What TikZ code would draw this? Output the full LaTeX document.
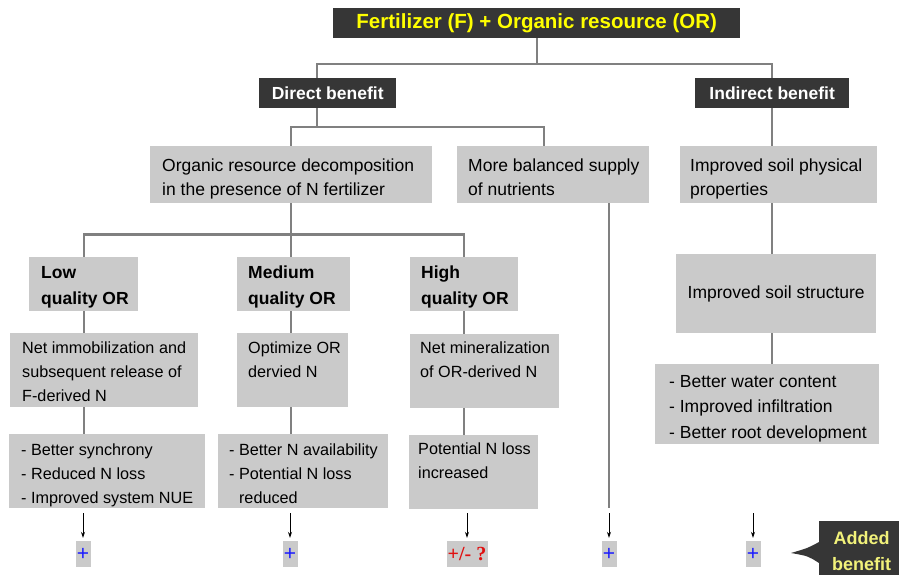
\documentclass[tikz,border=0pt]{standalone}
\usepackage{fontspec}
\setmainfont{Liberation Sans}
\newfontfamily\signfont{Liberation Serif}
\usetikzlibrary{arrows.meta}

\definecolor{headgrey}{HTML}{363636}
\definecolor{boxgrey}{HTML}{CACACA}
\definecolor{linkgrey}{HTML}{808080}
\definecolor{titleyellow}{HTML}{FFFF00}
\definecolor{noteyellow}{HTML}{F2F27A}
\definecolor{plusblue}{HTML}{1A1AFF}
\definecolor{plusred}{HTML}{E01010}

\begin{document}
\begin{tikzpicture}[
    x=1pt, y=-1pt,
    >={Stealth[length=6pt,width=4pt]},
    headbox/.style={
      fill=headgrey,
      anchor=north west,
      inner sep=0pt,
      text=white,
      font=\bfseries\fontsize{17.5}{21}\selectfont
    },
    greybox/.style={
      fill=boxgrey,
      anchor=north west,
      inner sep=0pt
    },
    bigtext/.style={
      anchor=base west,
      align=left,
      inner sep=0pt,
      font=\fontsize{17.5}{24.5}\selectfont
    },
    smalltext/.style={
      anchor=base west,
      align=left,
      inner sep=0pt,
      font=\fontsize{16.2}{24}\selectfont
    },
    boldtext/.style={
      anchor=base west,
      align=left,
      inner sep=0pt,
      font=\bfseries\fontsize{17.5}{26.5}\selectfont
    },
    link/.style={
      draw=linkgrey,
      line width=2.2pt
    },
    plusbox/.style={
      fill=boxgrey,
      minimum width=15,
      minimum height=26,
      inner sep=0pt,
      text=plusblue,
      font=\fontsize{21}{22}\selectfont
    }
  ]
    \useasboundingbox[fill=white] (0,0) rectangle (899,575);

    % top level
    \node[headbox, minimum width=407, minimum height=30, text=titleyellow,
      font=\bfseries\fontsize{20.5}{24}\selectfont] (title) at (333,8)
      {Fertilizer (F) + Organic resource (OR)};
    \node[headbox, minimum width=137, minimum height=30] (direct) at (259,78) {Direct benefit};
    \node[headbox, minimum width=154, minimum height=30] (indirect) at (695,78) {Indirect benefit};

    % second level (text nodes sit on the baseline of their last line)
    \node[greybox, minimum width=282, minimum height=57] (decomp) at (150,146) {};
    \node[bigtext] (decomp-t) at (162,195.5) {Organic resource decomposition\\in the presence of N fertilizer};
    \node[greybox, minimum width=192, minimum height=57] (balanced) at (457,146) {};
    \node[bigtext] (balanced-t) at (468,195.5) {More balanced supply\\of nutrients};
    \node[greybox, minimum width=197, minimum height=57] (physical) at (680,146) {};
    \node[bigtext] (physical-t) at (690,195.5) {Improved soil physical\\properties};

    % quality of OR
    \node[greybox, minimum width=109, minimum height=54] (low) at (29,257) {};
    \node[boldtext] (low-t) at (41,304.5) {Low\\quality OR};
    \node[greybox, minimum width=113, minimum height=54] (medium) at (237,257) {};
    \node[boldtext] (medium-t) at (248,304.5) {Medium\\quality OR};
    \node[greybox, minimum width=108, minimum height=54] (high) at (410,257) {};
    \node[boldtext] (high-t) at (421,304.5) {High\\quality OR};
    \node[greybox, minimum width=200, minimum height=79,
      font=\fontsize{17.5}{21}\selectfont] (structure) at (676,254) {Improved soil structure};

    % N release
    \node[greybox, minimum width=188, minimum height=74] (immob) at (10,333) {};
    \node[smalltext] (immob-t) at (22,401) {Net immobilization and\\subsequent release of\\F-derived N};
    \node[greybox, minimum width=111, minimum height=74] (optimize) at (237,333) {};
    \node[smalltext] (optimize-t) at (248,377) {Optimize OR\\dervied N};
    \node[greybox, minimum width=149, minimum height=74] (mineral) at (410,334) {};
    \node[smalltext] (mineral-t) at (420,377) {Net mineralization\\of OR-derived N};
    \node[greybox, minimum width=224, minimum height=80] (water) at (655,364) {};
    \node[bigtext, font=\fontsize{17.5}{25.7}\selectfont] (water-t) at (669,438.4)
      {- Better water content\\- Improved infiltration\\- Better root development};

    % effects
    \node[greybox, minimum width=196, minimum height=74] (synch) at (9,434) {};
    \node[smalltext] (synch-t) at (21,503) {- Better synchrony\\- Reduced N loss\\- Improved system NUE};
    \node[greybox, minimum width=170, minimum height=74] (avail) at (218,434) {};
    \node[smalltext] (avail-t) at (229,503) {- Better N availability\\- Potential N loss\\\hphantom{- }reduced};
    \node[greybox, minimum width=129, minimum height=74] (loss) at (409,435) {};
    \node[smalltext] (loss-t) at (418,478) {Potential N loss\\increased};

    % links
    \draw[link] (title.south) -- ++(0,26) -| ([xshift=-11pt]direct.north);
    \draw[link] (title.south) -- ++(0,26) -| (indirect.north);
    \draw[link] ([xshift=-11pt]direct.south) -- ++(0,19) -| (decomp.north);
    \draw[link] ([xshift=-11pt]direct.south) -- ++(0,19) -| ([xshift=-9pt]balanced.north);
    \draw[link] (indirect.south) -- (indirect.south |- physical.north);
    \draw[link] (indirect.south |- physical.south) -- (indirect.south |- structure.north);
    \draw[link] (indirect.south |- structure.south) -- (indirect.south |- water.north);
    \draw[link] (decomp.south) -- ++(0,31) -| (low.north);
    \draw[link] (decomp.south) -- ++(0,31) -| (high.north);
    \draw[link] (decomp.south) -- (decomp.south |- medium.north);
    \draw[link] (low.south) -- (low.south |- immob.north);
    \draw[link] (low.south |- immob.south) -- (low.south |- synch.north);
    \draw[link] (decomp.south |- medium.south) -- (decomp.south |- optimize.north);
    \draw[link] (decomp.south |- optimize.south) -- (decomp.south |- avail.north);
    \draw[link] (high.south) -- (high.south |- mineral.north);
    \draw[link] (high.south |- mineral.south) -- (high.south |- loss.north);

    % added benefit
    \foreach \x/\n in {83/1,290/2,609/4,753/5}
      \node[plusbox] (plus\n) at (\x,554) {+};
    \node[plusbox, minimum width=41, text=plusred,
      font=\signfont\bfseries\fontsize{20}{22}\selectfont] (plus3) at (467,554) {+/- ?};

    \draw[link] (balanced.south -| plus4) -- (plus4 |- 0,508);
    \foreach \n in {1,...,5}
      \draw[->, line width=0.8pt, shorten >=3pt] (plus\n.north |- 0,513) -- (plus\n.north);

    \node[headbox, minimum width=85, minimum height=60, text=noteyellow, align=center,
      font=\bfseries\fontsize{18}{26.5}\selectfont] (added) at (819,521) {Added\\benefit};
    \fill[headgrey] (added.west |- 0,542) .. controls (808,548) .. (791,553)
      .. controls (808,556) .. (added.west |- 0,563) -- cycle;
  \end{tikzpicture}
\end{document}
